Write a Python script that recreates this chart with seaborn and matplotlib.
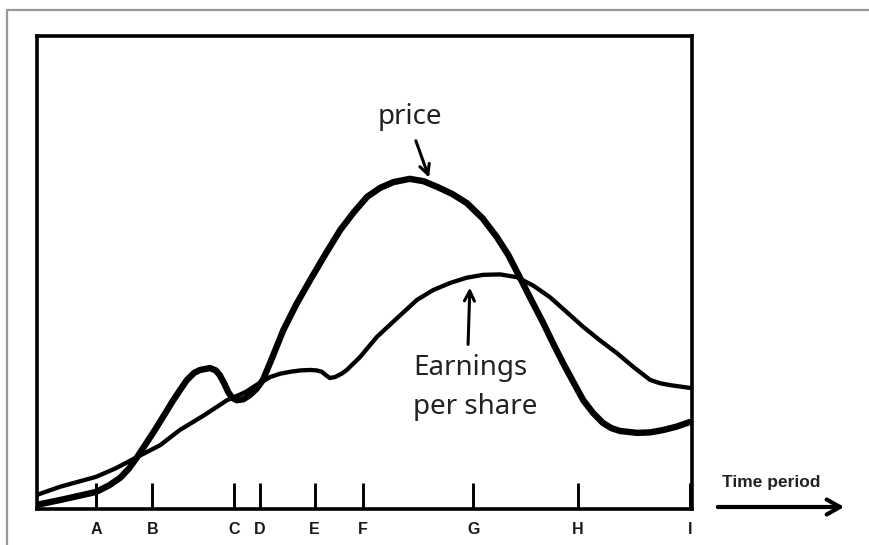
"""
Price vs earnings per share over time — sketch-style chart
"""
import matplotlib
matplotlib.use("Agg")
import matplotlib.pyplot as plt
from matplotlib.lines import Line2D
import pandas as pd
import seaborn as sns

# ── data (time in 0-100 units, value in 0-100 units) ─────────────────────────
tick_pos    = [9.0, 17.6, 30.1, 34.0, 42.4, 49.8, 66.6, 82.6, 99.7]
tick_labels = ["A", "B", "C", "D", "E", "F", "G", "H", "I"]

price_t = [0, 3.5, 9.0, 11.0, 12.7, 14.0, 15.3, 18.0, 20.8, 22.0, 22.9, 24.0,
           24.9, 26.4, 27.3, 27.9, 28.6, 29.2, 29.8, 30.5, 31.5, 32.5, 33.5,
           34.5, 36.0, 37.6, 39.6, 41.7, 44.0, 46.3, 48.4, 50.4, 52.4, 54.4,
           56.9, 59.0, 61.1, 63.4, 65.6, 68.0, 70.2, 72.0, 73.7, 75.5, 77.3,
           78.8, 80.3, 81.9, 83.4, 84.9, 86.4, 87.7, 89.0, 91.6, 93.6, 95.6,
           97.6, 99.7]
price_v = [0.9, 1.9, 3.6, 5.0, 6.6, 8.5, 11.0, 16.7, 23.0, 25.5, 27.3, 28.8,
           29.4, 29.8, 29.3, 28.3, 26.5, 24.7, 23.5, 23.0, 23.2, 24.1, 25.4,
           27.3, 32.3, 37.8, 43.3, 48.4, 53.8, 59.0, 62.8, 66.0, 67.9, 69.1,
           69.8, 69.3, 68.1, 66.6, 64.7, 61.5, 57.5, 53.6, 49.0, 44.1, 39.3,
           35.0, 30.9, 26.8, 23.0, 20.3, 18.2, 17.1, 16.5, 16.1, 16.2, 16.7,
           17.4, 18.4]

eps_t = [0, 3.5, 9.0, 12.0, 15.3, 18.8, 21.8, 25.6, 29.0, 31.8, 33.7, 35.6,
         37.1, 38.6, 40.2, 41.7, 42.7, 43.5, 44.1, 44.7, 45.5, 46.5, 47.3,
         49.3, 51.9, 54.7, 58.0, 60.5, 63.1, 65.6, 68.1, 70.7, 73.3, 75.8,
         78.3, 80.9, 83.4, 86.0, 88.5, 91.0, 93.6, 95.1, 96.6, 99.7]
eps_v = [3.0, 4.7, 6.8, 8.6, 11.0, 13.5, 16.7, 19.9, 23.0, 24.7, 26.4, 27.9,
         28.6, 29.0, 29.3, 29.4, 29.3, 29.0, 28.3, 27.7, 27.9, 28.6, 29.4,
         32.1, 36.4, 40.0, 44.2, 46.3, 47.8, 48.9, 49.5, 49.6, 49.0, 47.2,
         44.8, 41.6, 38.5, 35.6, 33.0, 30.1, 27.3, 26.6, 26.2, 25.6]

price_df = pd.DataFrame({"t": price_t, "v": price_v})
eps_df   = pd.DataFrame({"t": eps_t, "v": eps_v})

# ── figure ────────────────────────────────────────────────────────────────────
sns.set_theme(style="white")
plt.rcParams["font.family"] = ["Noto Sans", "DejaVu Sans"]

fig = plt.figure(figsize=(8.69, 5.45), dpi=100)
ax = fig.add_axes([0.0426, 0.066, 0.7537, 0.868])

sns.lineplot(data=eps_df, x="t", y="v", sort=False, ax=ax, color="black",
             lw=3.1, solid_capstyle="round", solid_joinstyle="round")
sns.lineplot(data=price_df, x="t", y="v", sort=False, ax=ax, color="black",
             lw=4.6, solid_capstyle="round", solid_joinstyle="round")

ax.set_xlim(0, 100)
ax.set_ylim(0, 100)
ax.set_xlabel("")
ax.set_ylabel("")
ax.set_yticks([])
ax.set_xticks(tick_pos)
ax.set_xticklabels(tick_labels, fontsize=11.5, fontweight="bold",
                   family=["Liberation Sans", "DejaVu Sans"], color="#1a1a1a")
ax.tick_params(axis="x", direction="in", length=19, width=2.1, color="black",
               pad=9, bottom=True)
for s in ax.spines.values():
    s.set_visible(True)
    s.set_color("black")
    s.set_linewidth(2.6)

# labels with arrows
ax.text(56.9, 82.9, "price", fontsize=20, ha="center", va="center", color="#222222")
ax.annotate("", xy=(60.0, 69.5), xytext=(57.7, 78.4),
            arrowprops=dict(arrowstyle="->,head_length=0.6,head_width=0.3",
                            lw=2.2, color="black"))
ax.text(57.4, 29.8, "Earnings", fontsize=20, ha="left", va="center", color="#222222")
ax.text(57.4, 21.6, "per share", fontsize=20, ha="left", va="center", color="#222222")
ax.annotate("", xy=(66.1, 47.4), xytext=(65.8, 34.2),
            arrowprops=dict(arrowstyle="->,head_length=0.6,head_width=0.3",
                            lw=2.2, color="black"))

# time period arrow outside the box
fig.text(722 / 869, 1 - 483 / 545, "Time period", fontsize=12.5, fontweight="bold",
         family=["Liberation Sans", "DejaVu Sans"],
         ha="left", va="center", color="#222222")
ax.annotate("", xy=(847 / 869, 1 - 507 / 545), xytext=(715 / 869, 1 - 507 / 545),
            xycoords="figure fraction", textcoords="figure fraction",
            arrowprops=dict(arrowstyle="->,head_length=0.8,head_width=0.45",
                            lw=3.0, color="black"), annotation_clip=False)

# grey frame on top and left
fig.add_artist(Line2D([7 / 869, 7 / 869], [0, 1 - 10 / 545], color="#999999", lw=1.6))
fig.add_artist(Line2D([7 / 869, 1], [1 - 10 / 545, 1 - 10 / 545], color="#999999", lw=1.6))

fig.savefig("out.png", dpi=100)
